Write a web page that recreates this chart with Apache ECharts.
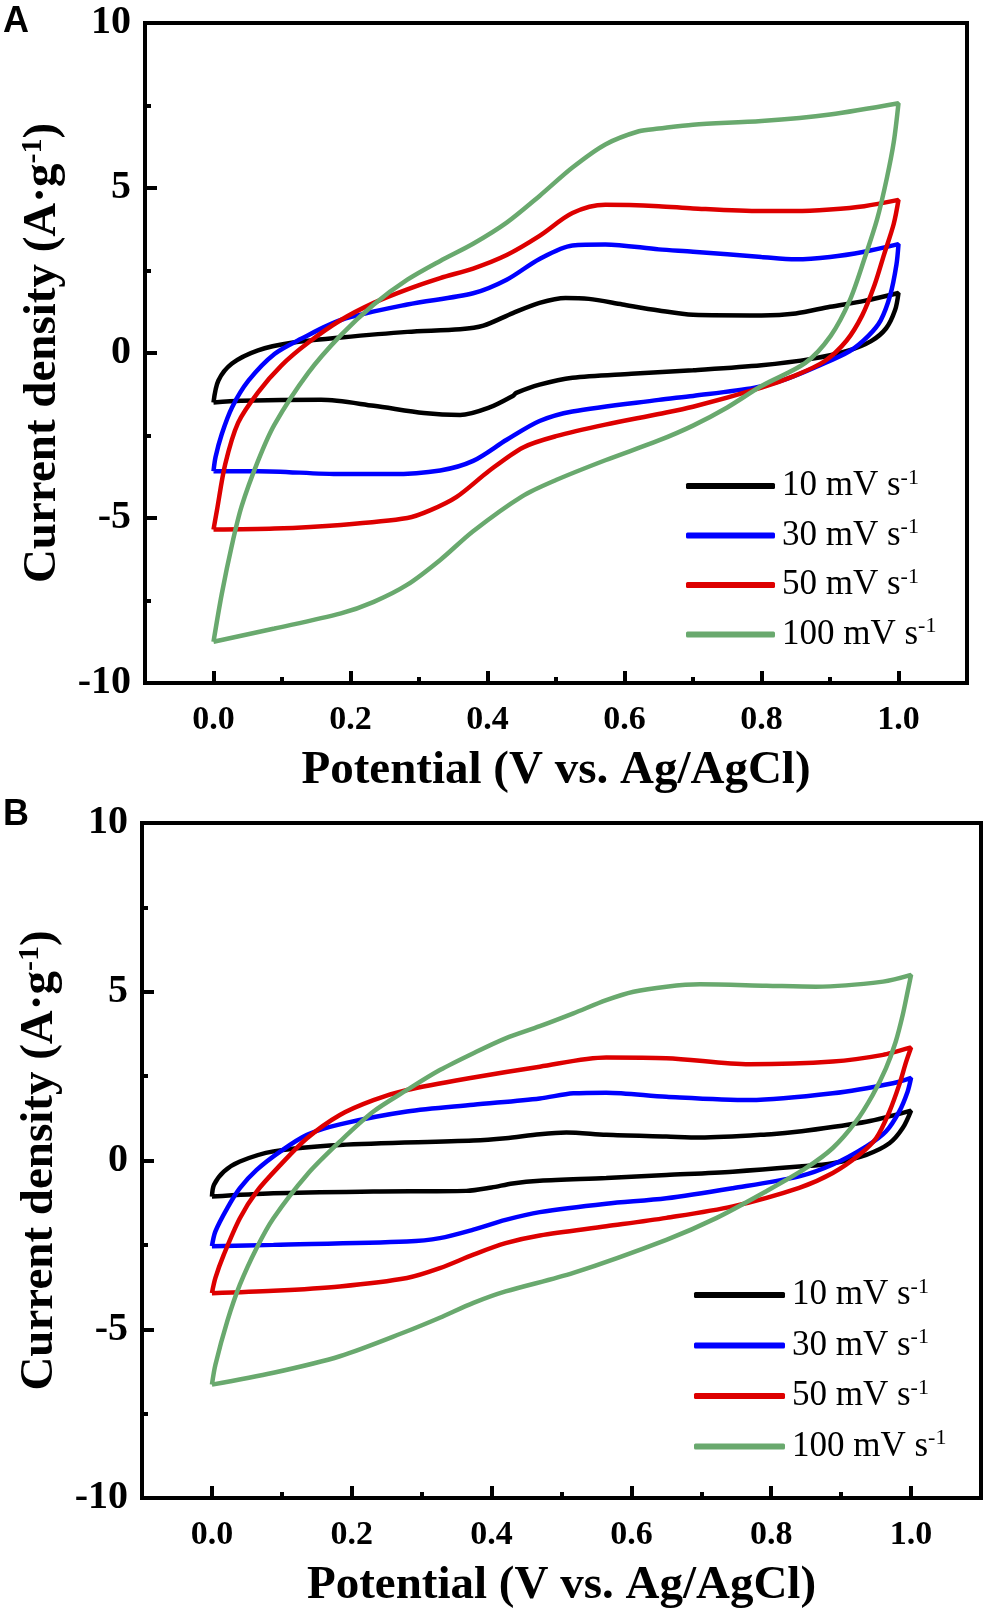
<!DOCTYPE html>
<html>
<head>
<meta charset="utf-8">
<script src="https://cdn.jsdelivr.net/npm/echarts@6/dist/echarts.min.js"></script>
<style>
  html, body { margin: 0; padding: 0; background: #fff; }
  #chart { width: 986px; height: 1616px; }
</style>
</head>
<body>
<div id="chart"></div>
<script>
// Scan rates (legend names)
const rates = ['10 mV s-1', '30 mV s-1', '50 mV s-1', '100 mV s-1'];
const colors = ['#000000', '#0000ff', '#dd0000', '#69a96e'];

// x tick labels
const xLabels = [0, 0.2, 0.4, 0.6, 0.8, 1.0];

// Panel A: CV loops [potential V, current A/g], anodic sweep then cathodic return
const a10 = [[0, -1.5], [0.007, -0.84], [0.027, -0.32], [0.065, 0.08], [0.114, 0.31], [0.186, 0.47],
  [0.283, 0.64], [0.36, 0.72], [0.394, 0.83], [0.437, 1.21], [0.476, 1.52], [0.514, 1.67], [0.548, 1.64],
  [0.597, 1.47], [0.65, 1.29], [0.7, 1.16], [0.8, 1.14], [0.85, 1.2], [0.9, 1.4], [0.95, 1.58], [1.0, 1.82],
  [0.995, 1.3], [0.982, 0.75], [0.96, 0.36], [0.925, 0.06], [0.875, -0.17], [0.8, -0.37], [0.7, -0.52],
  [0.61, -0.63], [0.524, -0.75], [0.476, -0.96], [0.442, -1.21], [0.437, -1.3], [0.403, -1.65],
  [0.36, -1.88], [0.307, -1.82], [0.234, -1.6], [0.157, -1.42], [0.04, -1.45], [0, -1.5]];
const a30 = [[0, -3.58], [0.003, -3.15], [0.012, -2.46], [0.027, -1.65], [0.051, -0.84], [0.089, -0.03],
  [0.128, 0.43], [0.186, 1.0], [0.283, 1.47], [0.379, 1.81], [0.428, 2.22], [0.476, 2.85], [0.524, 3.26],
  [0.572, 3.29], [0.65, 3.14], [0.7, 3.07], [0.8, 2.91], [0.85, 2.84], [0.9, 2.91], [0.95, 3.07], [1.0, 3.3],
  [0.997, 2.68], [0.988, 1.76], [0.974, 0.99], [0.956, 0.52], [0.929, 0.06], [0.882, -0.4], [0.836, -0.79],
  [0.79, -1.05], [0.7, -1.3], [0.65, -1.42], [0.524, -1.77], [0.476, -2.06], [0.428, -2.63],
  [0.379, -3.27], [0.331, -3.56], [0.258, -3.67], [0.186, -3.67], [0.065, -3.58], [0, -3.58]];
const a50 = [[0, -5.35], [0.005, -4.77], [0.017, -3.38], [0.036, -2.11], [0.065, -1.19], [0.099, -0.38],
  [0.138, 0.31], [0.186, 1.0], [0.234, 1.52], [0.283, 1.93], [0.331, 2.27], [0.379, 2.56], [0.428, 2.97],
  [0.476, 3.55], [0.524, 4.24], [0.572, 4.49], [0.65, 4.45], [0.7, 4.38], [0.8, 4.3], [0.85, 4.3],
  [0.9, 4.35], [0.95, 4.45], [1.0, 4.64],
  [0.993, 3.91], [0.979, 2.99], [0.965, 2.06], [0.947, 1.14], [0.924, 0.37], [0.892, -0.25], [0.846, -0.71],
  [0.8, -1.05], [0.7, -1.63], [0.65, -1.85], [0.572, -2.17], [0.5, -2.52], [0.452, -2.86], [0.403, -3.56],
  [0.355, -4.36], [0.316, -4.77], [0.283, -5.0], [0.186, -5.21], [0.089, -5.32], [0, -5.35]];
const a100 = [[0, -8.75], [0.012, -7.31], [0.027, -5.81], [0.041, -4.65], [0.065, -3.27], [0.089, -2.17],
  [0.138, -0.61], [0.186, 0.54], [0.234, 1.47], [0.283, 2.22], [0.331, 2.79], [0.379, 3.31], [0.428, 3.95],
  [0.476, 4.76], [0.524, 5.62], [0.572, 6.32], [0.621, 6.72], [0.65, 6.8], [0.7, 6.92], [0.8, 7.03],
  [0.9, 7.23], [1.0, 7.57],
  [0.993, 6.38], [0.983, 5.3], [0.969, 4.07], [0.951, 2.9], [0.929, 1.6], [0.901, 0.52], [0.864, -0.3],
  [0.8, -1.0], [0.75, -1.65], [0.7, -2.2], [0.65, -2.65], [0.572, -3.25], [0.5, -3.85], [0.45, -4.35],
  [0.379, -5.4], [0.331, -6.27], [0.283, -7.02], [0.234, -7.54], [0.186, -7.89], [0.089, -8.35], [0, -8.75]];

// Panel B
const b10 = [[0, -1.07], [0.003, -0.72], [0.017, -0.33], [0.04, -0.03], [0.088, 0.27], [0.183, 0.46],
  [0.374, 0.59], [0.42, 0.66], [0.469, 0.78], [0.507, 0.83], [0.564, 0.76], [0.65, 0.71], [0.698, 0.68],
  [0.8, 0.78], [0.84, 0.86], [0.936, 1.15], [1.0, 1.48],
  [0.988, 0.96], [0.969, 0.51], [0.936, 0.17], [0.888, -0.08], [0.84, -0.18], [0.745, -0.33], [0.65, -0.43],
  [0.564, -0.52], [0.469, -0.6], [0.43, -0.68], [0.4, -0.8], [0.364, -0.9], [0.231, -0.92],
  [0.088, -0.97], [0, -1.07]];
const b30 = [[0, -2.54], [0.005, -2.1], [0.022, -1.41], [0.04, -0.82], [0.064, -0.28], [0.098, 0.27],
  [0.136, 0.76], [0.183, 1.07], [0.279, 1.45], [0.374, 1.65], [0.469, 1.84], [0.517, 1.99], [0.564, 2.01],
  [0.65, 1.89], [0.769, 1.79], [0.888, 1.99], [0.974, 2.29], [1.0, 2.45],
  [0.995, 2.04], [0.983, 1.45], [0.964, 0.86], [0.936, 0.42], [0.888, -0.12], [0.84, -0.47], [0.745, -0.82],
  [0.65, -1.12], [0.564, -1.28], [0.469, -1.53], [0.42, -1.76], [0.374, -2.05], [0.326, -2.3],
  [0.279, -2.4], [0.088, -2.5], [0, -2.54]];
const b50 = [[0, -3.93], [0.005, -3.48], [0.017, -2.79], [0.04, -1.71], [0.064, -0.92], [0.098, -0.13],
  [0.136, 0.66], [0.183, 1.35], [0.231, 1.79], [0.279, 2.09], [0.374, 2.46], [0.469, 2.78], [0.564, 3.05],
  [0.65, 3.03], [0.769, 2.85], [0.888, 2.93], [0.96, 3.13], [1.0, 3.35],
  [0.993, 2.93], [0.983, 2.24], [0.969, 1.45], [0.95, 0.66], [0.926, 0.17], [0.888, -0.37], [0.84, -0.81],
  [0.745, -1.36], [0.65, -1.7], [0.564, -1.95], [0.469, -2.22], [0.42, -2.45], [0.374, -2.79],
  [0.326, -3.19], [0.279, -3.48], [0.183, -3.73], [0.088, -3.86], [0, -3.93]];
const b100 = [[0, -6.64], [0.005, -6.05], [0.022, -4.76], [0.04, -3.68], [0.064, -2.59], [0.088, -1.71],
  [0.136, -0.42], [0.183, 0.56], [0.231, 1.45], [0.279, 2.09], [0.326, 2.68], [0.374, 3.18], [0.42, 3.62],
  [0.469, 3.98], [0.517, 4.36], [0.564, 4.75], [0.603, 5.0], [0.65, 5.15], [0.698, 5.22], [0.793, 5.18],
  [0.864, 5.15], [0.96, 5.3], [1.0, 5.5],
  [0.995, 5.0], [0.988, 4.31], [0.978, 3.52], [0.964, 2.73], [0.945, 1.94], [0.921, 1.15], [0.888, 0.37],
  [0.85, -0.22], [0.793, -0.91], [0.722, -1.7], [0.65, -2.35], [0.517, -3.33], [0.42, -3.88],
  [0.374, -4.22], [0.326, -4.66], [0.279, -5.06], [0.183, -5.8], [0.088, -6.29], [0, -6.64]];

const panelA = [a10, a30, a50, a100];
const panelB = [b10, b30, b50, b100];

const serif = "'Liberation Serif', 'Times New Roman', serif";

// x axis sits on the zero of a hidden 0..1 y axis (= bottom edge of the grid).
// ticks start at min (-0.1): odd tenths get short ticks, minor ticks fall on even tenths (long)
function xAxis(grid, zeroAxis) {
  return {
    type: 'value', gridIndex: grid, min: -0.1, max: 1.1, interval: 0.2,
    name: 'Potential (V vs. Ag/AgCl)', nameLocation: 'middle', nameGap: 64,
    nameTextStyle: { fontFamily: serif, fontWeight: 'bold', fontSize: 47, color: '#000' },
    axisLine: { show: true, onZero: true, onZeroAxisIndex: zeroAxis, lineStyle: { width: 4, color: '#000' } },
    axisTick: { show: true, inside: true, length: 6, lineStyle: { width: 4, color: '#000' } },
    minorTick: { show: true, splitNumber: 2, length: 12, lineStyle: { width: 4, color: '#000' } },
    axisLabel: { customValues: xLabels, margin: 20, fontFamily: serif, fontWeight: 'bold', fontSize: 34, color: '#000',
      formatter: v => v.toFixed(1) },
    splitLine: { show: false }
  };
}

function yAxis(grid) {
  return {
    type: 'value', gridIndex: grid, min: -10, max: 10, interval: 5,
    name: '{a|Current density (A·g}{s|-1}{a|)}', nameLocation: 'middle', nameGap: 64,
    nameTextStyle: {
      rich: {
        a: { fontFamily: serif, fontWeight: 'bold', fontSize: 47, color: '#000', lineHeight: 50 },
        s: { fontFamily: serif, fontWeight: 'bold', fontSize: 30, color: '#000', verticalAlign: 'top', lineHeight: 30 }
      }
    },
    axisLine: { show: true, onZero: false, lineStyle: { width: 4, color: '#000' } },
    axisTick: { show: true, inside: true, length: 12, lineStyle: { width: 4, color: '#000' } },
    minorTick: { show: true, splitNumber: 2, length: 6, lineStyle: { width: 4, color: '#000' } },
    axisLabel: { margin: 14, fontFamily: serif, fontWeight: 'bold', fontSize: 40, color: '#000' },
    splitLine: { show: false }
  };
}

function baseAxis(grid) {
  return { type: 'value', gridIndex: grid, min: 0, max: 1, show: false, splitLine: { show: false } };
}

function legend(left, top, gap, iconW) {
  return {
    orient: 'vertical', left: left, top: top, itemGap: gap,
    itemWidth: iconW, itemHeight: 6, icon: 'roundRect',
    data: rates,
    formatter: n => '{a|' + n.slice(0, -2) + '}{s|-1}',
    textStyle: {
      padding: [0, 0, 0, 2],
      rich: {
        a: { fontFamily: serif, fontSize: 35, color: '#000', lineHeight: 38 },
        s: { fontFamily: serif, fontSize: 22, color: '#000', verticalAlign: 'top', lineHeight: 22 }
      }
    }
  };
}

const series = [];
panelA.forEach((d, i) => series.push({
  name: rates[i], type: 'line', xAxisIndex: 0, yAxisIndex: 0, data: d,
  symbol: 'none', smooth: 0.3, color: colors[i], lineStyle: { width: 4.5, color: colors[i] }
}));
panelB.forEach((d, i) => series.push({
  name: rates[i], type: 'line', xAxisIndex: 1, yAxisIndex: 1, data: d,
  symbol: 'none', smooth: 0.3, color: colors[i], lineStyle: { width: 4.5, color: colors[i] }
}));

const chart = echarts.init(document.getElementById('chart'), null, { renderer: 'canvas' });
chart.setOption({
  backgroundColor: '#fff',
  animation: false,
  grid: [
    { left: 145, top: 23, width: 822, height: 660, show: true, borderColor: '#000', borderWidth: 4 },
    { left: 142, top: 823, width: 839, height: 675, show: true, borderColor: '#000', borderWidth: 4 }
  ],
  xAxis: [xAxis(0, 2), xAxis(1, 3)],
  yAxis: [yAxis(0), yAxis(1), baseAxis(0), baseAxis(1)],
  legend: [legend(681, 462, 13, 89), legend(689, 1271, 14, 91)],
  graphic: [
    { type: 'text', left: 3, top: 4, style: { text: 'A', font: "bold 36px 'Liberation Sans', Arial, sans-serif", fill: '#000' } },
    { type: 'text', left: 3, top: 797, style: { text: 'B', font: "bold 36px 'Liberation Sans', Arial, sans-serif", fill: '#000' } }
  ],
  series: series
});
</script>
</body>
</html>
